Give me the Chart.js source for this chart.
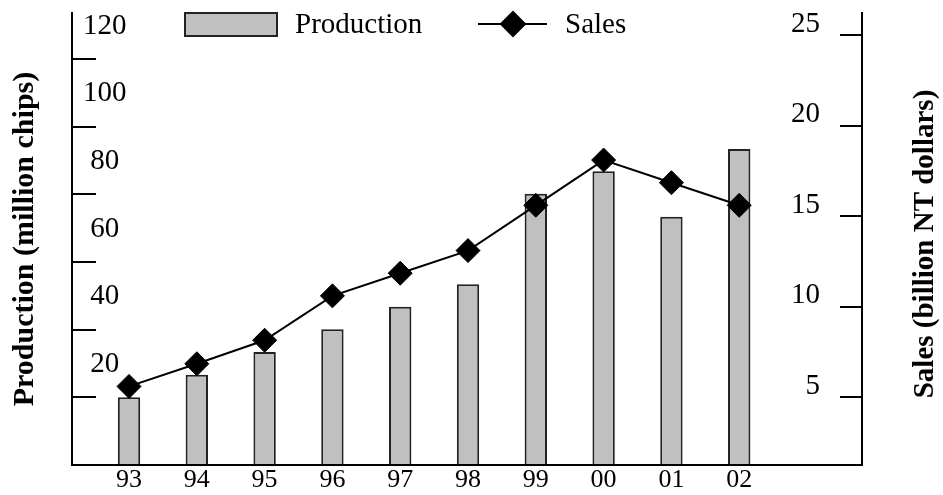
<!DOCTYPE html>
<html>
<head>
<meta charset="utf-8">
<script src="https://cdn.jsdelivr.net/npm/chart.js@4.4.1/dist/chart.umd.min.js"></script>
<style>
  html, body { margin: 0; padding: 0; background: #fff; }
  #wrap { width: 943px; height: 495px; }
</style>
</head>
<body>
<div id="wrap"><canvas id="chipChart" width="943" height="495"></canvas></div>
<script>
// chart values
const years = ['93', '94', '95', '96', '97', '98', '99', '00', '01', '02'];
const production = [20, 26.7, 33.4, 40.1, 46.8, 53.4, 80.2, 86.8, 73.4, 93.4];
const sales = [5.6, 6.85, 8.15, 10.6, 11.85, 13.1, 15.6, 18.1, 16.85, 15.6];

const serif = 'Liberation Serif';
Chart.defaults.font.family = serif;
Chart.defaults.color = '#000';

// fixed box sizes so the plot area lands where the original one is
function fixBox(w, h) {
    return function (scale) {
        if (w !== null) scale.width = w;
        if (h !== null) scale.height = h;
        scale.paddingTop = 0;
        scale.paddingBottom = 0;
        scale.paddingLeft = 0;
        scale.paddingRight = 0;
    };
}

// legend drawn by hand so it can sit over the top of the plot
const topLegend = {
    id: 'topLegend',
    afterDraw(chart) {
        const ctx = chart.ctx;
        const ds = chart.data.datasets;
        ctx.save();
        ctx.font = '29px ' + serif;
        ctx.textBaseline = 'alphabetic';

        // bar sample
        ctx.fillStyle = '#c0c0c0';
        ctx.fillRect(185, 13, 92, 23);
        ctx.strokeStyle = '#222';
        ctx.lineWidth = 2;
        ctx.strokeRect(185, 13, 92, 23);
        ctx.fillStyle = '#000';
        ctx.fillText(ds[1].label, 295, 33);

        // line sample
        ctx.strokeStyle = '#000';
        ctx.lineWidth = 2;
        ctx.beginPath();
        ctx.moveTo(478, 24);
        ctx.lineTo(547, 24);
        ctx.stroke();
        Chart.helpers.drawPoint(ctx, { pointStyle: 'rectRot', radius: 12, borderWidth: 1 }, 513, 24);
        ctx.fill();
        ctx.fillText(ds[0].label, 565, 33);
        ctx.restore();
    }
};

// right title reads bottom to top like the left one
const rightTitle = {
    id: 'rightTitle',
    afterDraw(chart) {
        const ctx = chart.ctx;
        ctx.save();
        ctx.font = 'bold 29px ' + serif;
        ctx.fillStyle = '#000';
        ctx.textAlign = 'center';
        ctx.textBaseline = 'middle';
        ctx.translate(926, 244);
        ctx.rotate(-Math.PI / 2);
        ctx.fillText('Sales (billion NT dollars)', 0, 0);
        ctx.restore();
    }
};

const ctx = document.getElementById('chipChart').getContext('2d');

new Chart(ctx, {
    type: 'bar',
    data: {
        datasets: [
            {
                type: 'line',
                label: 'Sales',
                data: sales.map((v, i) => ({ x: i, y: v })),
                yAxisID: 'y2',
                borderColor: '#000',
                borderWidth: 2,
                pointStyle: 'rectRot',
                pointRadius: 12,
                pointBackgroundColor: '#000',
                pointBorderColor: '#000',
                pointBorderWidth: 1,
                tension: 0,
                clip: false,
                order: 0
            },
            {
                type: 'bar',
                label: 'Production',
                data: production.map((v, i) => ({ x: i, y: v })),
                yAxisID: 'y',
                backgroundColor: '#c0c0c0',
                borderColor: '#222',
                borderWidth: 2,
                barPercentage: 1,
                categoryPercentage: 0.33,
                order: 1
            }
        ]
    },
    options: {
        responsive: false,
        animation: false,
        layout: { padding: { top: 13, left: 0, right: 0, bottom: 0 } },
        plugins: {
            legend: { display: false },
            tooltip: { enabled: false }
        },
        scales: {
            x: {
                type: 'linear',
                offset: false,
                min: -0.841,
                max: 10.811,
                afterFit: fixBox(null, 30),
                grid: { display: false, drawTicks: false, offset: false },
                border: { display: true, color: '#000', width: 2 },
                ticks: {
                    stepSize: 1,
                    includeBounds: false,
                    autoSkip: false,
                    maxRotation: 0,
                    padding: 0,
                    font: { size: 26 },
                    callback: (v) => years[v] ?? ''
                }
            },
            y: {
                position: 'left',
                min: 0,
                max: 133.6,
                afterFit: fixBox(72, null),
                grid: { drawOnChartArea: false, drawTicks: true, tickLength: -24, color: '#000', lineWidth: 2 },
                border: { display: true, color: '#000', width: 2 },
                title: {
                    display: true,
                    text: 'Production (million chips)',
                    font: { size: 30, weight: 'bold' },
                    padding: { top: 7, bottom: 0 }
                },
                ticks: {
                    stepSize: 20,
                    includeBounds: false,
                    mirror: true,
                    crossAlign: 'center',
                    padding: 11,
                    labelOffset: -33,
                    font: { size: 29 },
                    callback: (v) => (v === 0 ? '' : v)
                }
            },
            y2: {
                position: 'right',
                min: 1.26,
                max: 26.22,
                afterFit: fixBox(81, null),
                grid: { drawOnChartArea: false, drawTicks: true, tickLength: -22, color: '#000', lineWidth: 2 },
                border: { display: true, color: '#000', width: 2 },
                ticks: {
                    stepSize: 5,
                    includeBounds: false,
                    mirror: true,
                    crossAlign: 'near',
                    padding: -42,
                    labelOffset: -11,
                    font: { size: 29 }
                }
            }
        }
    },
    plugins: [topLegend, rightTitle]
});
</script>
</body>
</html>
